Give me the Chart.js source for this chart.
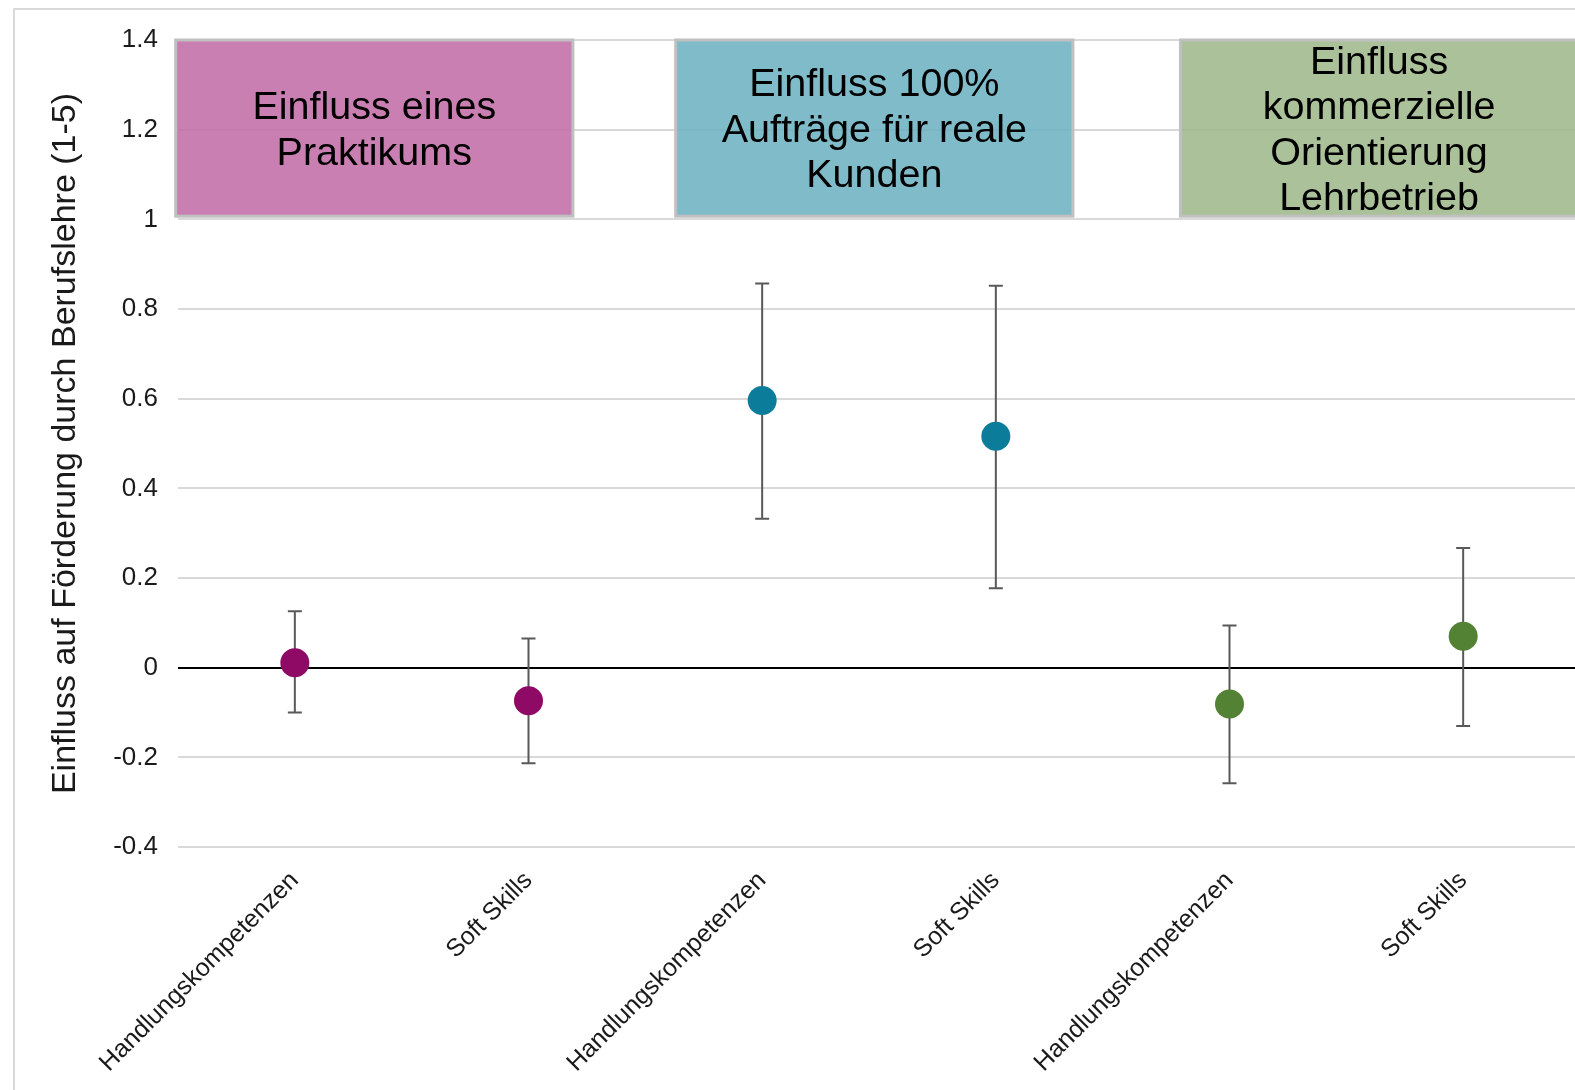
<!DOCTYPE html>
<html>
<head>
<meta charset="utf-8">
<script src="https://cdn.jsdelivr.net/npm/chart.js@4/dist/chart.umd.min.js"></script>
<style>
  body { margin: 0; overflow: hidden; background: #fff; }
  #wrap { position: relative; width: 1600px; height: 1090px; }
  #frame { position: absolute; left: 13px; top: 8px; width: 1620px; height: 1120px; border: 2px solid #d9d9d9; }
  #chart { position: absolute; left: 0; top: 0; }
</style>
</head>
<body>
<div id="wrap">
  <div id="frame"></div>
  <canvas id="chart" width="1600" height="1090"></canvas>
</div>
<script>
// data
const categories = ["Handlungskompetenzen", "Soft Skills", "Handlungskompetenzen", "Soft Skills", "Handlungskompetenzen", "Soft Skills"];
const estimates = [0.011, -0.074, 0.596, 0.516, -0.081, 0.070];
const lowerBounds = [-0.100, -0.213, 0.332, 0.177, -0.258, -0.130];
const upperBounds = [0.126, 0.065, 0.857, 0.852, 0.094, 0.267];
const groupLabels = [
    ["Einfluss eines", "Praktikums"],
    ["Einfluss 100%", "Aufträge für reale", "Kunden"],
    ["Einfluss", "kommerzielle", "Orientierung", "Lehrbetrieb"],
];

// styling
const pointColors = ["#8E0A64", "#8E0A64", "#0B7D9A", "#0B7D9A", "#548235", "#548235"];
const boxFills = ["rgba(191,104,164,0.85)", "rgba(105,175,191,0.85)", "rgba(155,182,135,0.85)"];
// box extents in category units, and in y units
const boxRanges = [[-0.51, 1.19], [1.63, 3.33], [3.79, 5.49]];
const boxTop = 1.4, boxBottom = 1.007;

const FONT = "'Liberation Sans', Arial, sans-serif";

// group boxes (over the grid) and error bars (under the points)
const groupBoxes = {
    id: "groupBoxes",
    beforeDatasetsDraw(chart) {
        const { ctx, scales: { x, y } } = chart;
        ctx.save();
        boxRanges.forEach((r, i) => {
            const x0 = x.getPixelForValue(r[0]);
            const x1 = x.getPixelForValue(r[1]);
            const y0 = y.getPixelForValue(boxTop);
            const y1 = y.getPixelForValue(boxBottom);
            ctx.fillStyle = boxFills[i];
            ctx.fillRect(x0, y0, x1 - x0, y1 - y0);
            ctx.strokeStyle = "#c0c0c0";
            ctx.lineWidth = 3;
            ctx.strokeRect(x0, y0, x1 - x0, y1 - y0);

            const lines = groupLabels[i];
            const lh = 45.5;
            const cx = (x0 + x1) / 2;
            const cy = (y0 + y1) / 2 + 3;
            ctx.fillStyle = "#000";
            ctx.font = "39.5px " + FONT;
            ctx.textAlign = "center";
            ctx.textBaseline = "middle";
            lines.forEach((t, k) => {
                ctx.fillText(t, cx, cy + (k - (lines.length - 1) / 2) * lh);
            });
        });

        ctx.strokeStyle = "#595959";
        ctx.lineWidth = 2;
        estimates.forEach((v, i) => {
            const px = x.getPixelForValue(i);
            const lo = y.getPixelForValue(lowerBounds[i]);
            const hi = y.getPixelForValue(upperBounds[i]);
            ctx.beginPath();
            ctx.moveTo(px, lo); ctx.lineTo(px, hi);
            ctx.moveTo(px - 7, lo); ctx.lineTo(px + 7, lo);
            ctx.moveTo(px - 7, hi); ctx.lineTo(px + 7, hi);
            ctx.stroke();
        });
        ctx.restore();
    }
};

new Chart(document.getElementById("chart"), {
    type: "line",
    data: {
        labels: categories,
        datasets: [{
            data: estimates,
            showLine: false,
            pointRadius: 14.5,
            pointHoverRadius: 14.5,
            pointBackgroundColor: pointColors,
            pointBorderColor: pointColors,
            pointBorderWidth: 0,
        }],
    },
    options: {
        responsive: false,
        animation: false,
        events: [],
        layout: { padding: { top: 40, right: 20, left: 0, bottom: 0 } },
        plugins: { legend: { display: false }, tooltip: { enabled: false } },
        scales: {
            x: {
                offset: true,
                grid: { display: false },
                border: { display: false },
                ticks: {
                    color: "#1a1a1a",
                    font: { family: FONT, size: 25 },
                    minRotation: 45,
                    maxRotation: 45,
                    padding: 11,
                    autoSkip: false,
                },
                afterFit: (s) => { s.height = 243; },
            },
            y: {
                min: -0.4,
                max: 1.4,
                border: { display: false },
                grid: {
                    drawTicks: false,
                    lineWidth: 2,
                    color: (c) => (c.tick && Math.abs(c.tick.value) < 1e-9 ? "#000" : "#d9d9d9"),
                },
                ticks: {
                    stepSize: 0.2,
                    padding: 20,
                    color: "#1a1a1a",
                    font: { family: FONT, size: 26 },
                    callback: (v) => String(Math.round(v * 10) / 10),
                },
                title: {
                    display: true,
                    text: "Einfluss auf Förderung durch Berufslehre (1-5)",
                    color: "#1a1a1a",
                    font: { family: FONT, size: 34 },
                    padding: { top: 45, bottom: 0 },
                },
                afterFit: (s) => { s.width = 178; },
            },
        },
    },
    plugins: [groupBoxes],
});
</script>
</body>
</html>
